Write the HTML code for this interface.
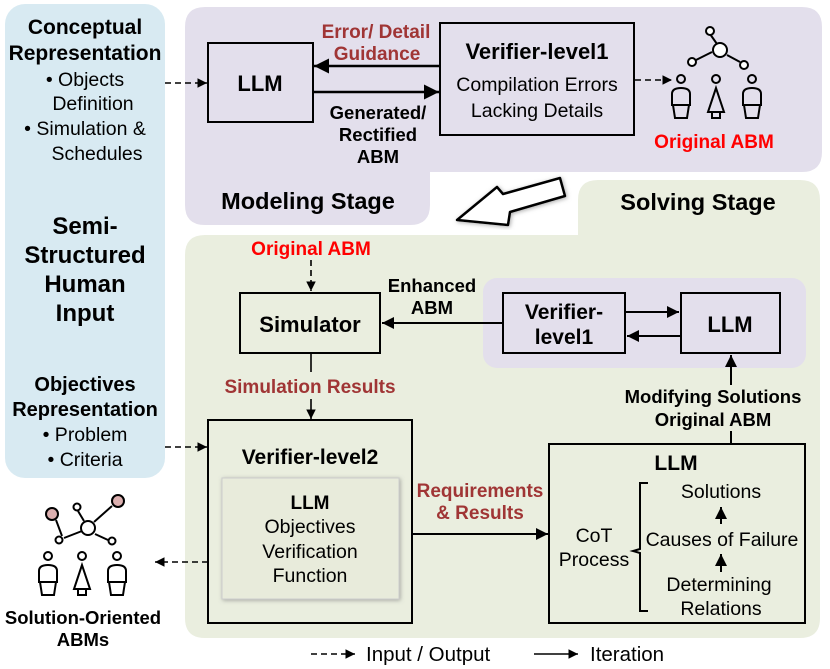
<!DOCTYPE html>
<html><head><meta charset="utf-8"><style>
html,body{margin:0;padding:0;background:#fff;}
svg{display:block;font-family:"Liberation Sans",Arial,sans-serif;}
.b{font-weight:bold;}
</style></head><body>
<svg width="830" height="669" viewBox="0 0 830 669" xmlns="http://www.w3.org/2000/svg">
<defs>
<marker id="ah" viewBox="0 0 10 10" refX="10" refY="5" markerWidth="6" markerHeight="6" orient="auto"><path d="M0,0 L10,5 L0,10 z" fill="#000"/></marker>
<filter id="sh" x="-10%" y="-10%" width="120%" height="120%"><feDropShadow dx="1" dy="1" stdDeviation="2" flood-color="#777" flood-opacity="0.6"/></filter>
</defs>
<rect x="5" y="4" width="160" height="474" rx="20" fill="#d8eaf2"/>
<path d="M205,7 H802 Q822,7 822,27 V152 Q822,172 802,172 H430 V205 Q430,225 410,225 H205 Q185,225 185,205 V27 Q185,7 205,7 Z" fill="#e3dfec"/>
<path d="M598,180 H800 Q820,180 820,200 V618 Q820,638 800,638 H205 Q185,638 185,618 V255 Q185,235 205,235 H578 V200 Q578,180 598,180 Z" fill="#eaeedf"/>
<rect x="483" y="278" width="323" height="90" rx="14" fill="#e3dfec"/>

<polygon points="457,220 497,187 503,194 560,178 565,196 510,212 508,225" fill="#fff" stroke="#000" stroke-width="2.5" stroke-linejoin="round" filter="url(#sh)"/>

<g font-size="19.5" text-anchor="middle" fill="#000">
<text x="85" y="34" class="b" font-size="21">Conceptual</text>
<text x="85" y="60" class="b" font-size="21">Representation</text>
<text x="85" y="86">•  Objects</text>
<text x="93" y="110">Definition</text>
<text x="85" y="135">•  Simulation &amp;</text>
<text x="97" y="160">Schedules</text>
<text x="85" y="234" class="b" font-size="24">Semi-</text>
<text x="85" y="263" class="b" font-size="24">Structured</text>
<text x="85" y="292" class="b" font-size="24">Human</text>
<text x="85" y="321" class="b" font-size="24">Input</text>
<text x="85" y="391" class="b" font-size="20">Objectives</text>
<text x="85" y="416" class="b" font-size="20">Representation</text>
<text x="85" y="441">•  Problem</text>
<text x="85" y="466">•  Criteria</text>

<rect x="208" y="43" width="105" height="79" fill="none" stroke="#000" stroke-width="2"/>
<text x="260" y="91" class="b" font-size="22">LLM</text>
<rect x="440" y="23" width="194" height="112" fill="none" stroke="#000" stroke-width="2"/>
<text x="537" y="59" class="b" font-size="22">Verifier-level1</text>
<text x="537" y="91">Compilation Errors</text>
<text x="537" y="117">Lacking Details</text>
<line x1="440" y1="66" x2="314" y2="66" stroke="#000" stroke-width="2.5" marker-end="url(#ah)"/>
<line x1="313" y1="92" x2="439" y2="92" stroke="#000" stroke-width="2.5" marker-end="url(#ah)"/>
<text x="376" y="38" class="b" font-size="19" fill="#a03535">Error/ Detail</text>
<text x="377" y="60" class="b" font-size="19" fill="#a03535">Guidance</text>
<text x="378" y="119" class="b" font-size="18.5">Generated/</text>
<text x="378" y="141" class="b" font-size="18.5">Rectified</text>
<text x="378" y="163" class="b" font-size="18.5">ABM</text>
<text x="308" y="209" class="b" font-size="23.5">Modeling Stage</text>
<line x1="165" y1="83" x2="207" y2="83" stroke="#000" stroke-width="1.6" stroke-dasharray="6,4" marker-end="url(#ah)"/>
<line x1="635" y1="80" x2="672" y2="80" stroke="#000" stroke-width="1.6" stroke-dasharray="6,4" marker-end="url(#ah)"/>
<text x="714" y="148" class="b" font-size="19" fill="#ff0000">Original ABM</text>

<text x="698" y="210" class="b" font-size="23.5">Solving Stage</text>
<text x="311" y="255" class="b" font-size="19" fill="#ff0000">Original ABM</text>
<line x1="311" y1="260" x2="311" y2="291" stroke="#000" stroke-width="1.6" stroke-dasharray="6,4" marker-end="url(#ah)"/>
<rect x="240" y="293" width="140" height="60" fill="none" stroke="#000" stroke-width="2"/>
<text x="310" y="332" class="b" font-size="22">Simulator</text>
<text x="432" y="292" class="b" font-size="18.5">Enhanced</text>
<text x="432" y="314" class="b" font-size="18.5">ABM</text>
<line x1="503" y1="323" x2="382" y2="323" stroke="#000" stroke-width="2" marker-end="url(#ah)"/>
<rect x="503" y="293" width="122" height="60" fill="none" stroke="#000" stroke-width="2"/>
<text x="564" y="319" class="b" font-size="21">Verifier-</text>
<text x="564" y="344" class="b" font-size="21">level1</text>
<rect x="681" y="293" width="99" height="60" fill="none" stroke="#000" stroke-width="2"/>
<text x="730" y="332" class="b" font-size="22">LLM</text>
<line x1="625" y1="312" x2="679" y2="312" stroke="#000" stroke-width="2" marker-end="url(#ah)"/>
<line x1="681" y1="336" x2="627" y2="336" stroke="#000" stroke-width="2" marker-end="url(#ah)"/>
<line x1="731" y1="385" x2="731" y2="355" stroke="#000" stroke-width="2" marker-end="url(#ah)"/>
<text x="713" y="403" class="b" font-size="18.5">Modifying Solutions</text>
<text x="713" y="426" class="b" font-size="18.5">Original ABM</text>
<line x1="731" y1="431" x2="731" y2="444" stroke="#000" stroke-width="2"/>

<line x1="311" y1="353" x2="311" y2="372" stroke="#000" stroke-width="1.6"/>
<text x="310" y="393" class="b" font-size="19" fill="#a03535">Simulation Results</text>
<line x1="311" y1="399" x2="311" y2="419" stroke="#000" stroke-width="1.6" marker-end="url(#ah)"/>

<rect x="208" y="420" width="204" height="203" fill="none" stroke="#000" stroke-width="2"/>
<text x="310" y="464" class="b" font-size="21">Verifier-level2</text>
<rect x="222" y="478" width="177" height="121" fill="#e8ebdb" stroke="#ccc" filter="url(#sh)"/>
<text x="310" y="509" class="b" font-size="19">LLM</text>
<text x="310" y="533">Objectives</text>
<text x="310" y="558">Verification</text>
<text x="310" y="582">Function</text>
<line x1="165" y1="447" x2="207" y2="447" stroke="#000" stroke-width="1.6" stroke-dasharray="6,4" marker-end="url(#ah)"/>
<line x1="208" y1="562" x2="155" y2="562" stroke="#000" stroke-width="1.6" stroke-dasharray="6,4" marker-end="url(#ah)"/>

<text x="480" y="497" class="b" font-size="19" fill="#a03535">Requirements</text>
<text x="480" y="519" class="b" font-size="19" fill="#a03535">&amp; Results</text>
<line x1="412" y1="534" x2="548" y2="534" stroke="#000" stroke-width="2" marker-end="url(#ah)"/>

<rect x="549" y="444" width="256" height="179" fill="none" stroke="#000" stroke-width="2"/>
<text x="676" y="470" class="b" font-size="21">LLM</text>
<text x="594" y="542">CoT</text>
<text x="594" y="566">Process</text>
<path d="M648,483 H640 V549 L633,551 L640,553 V611 H648" fill="none" stroke="#000" stroke-width="2"/>
<text x="721" y="498">Solutions</text>
<line x1="721" y1="524" x2="721" y2="507" stroke="#000" stroke-width="2" marker-end="url(#ah)"/>
<text x="722" y="546">Causes of Failure</text>
<line x1="721" y1="572" x2="721" y2="554" stroke="#000" stroke-width="2" marker-end="url(#ah)"/>
<text x="719" y="591">Determining</text>
<text x="721" y="615">Relations</text>

<text x="83" y="624" class="b" font-size="18.5">Solution-Oriented</text>
<text x="83" y="646" class="b" font-size="18.5">ABMs</text>

<line x1="311" y1="654" x2="355" y2="654" stroke="#000" stroke-width="1.6" stroke-dasharray="6,4" marker-end="url(#ah)"/>
<text x="366" y="661" text-anchor="start" font-size="20.5">Input / Output</text>
<line x1="534" y1="654" x2="578" y2="654" stroke="#000" stroke-width="1.6" marker-end="url(#ah)"/>
<text x="590" y="661" text-anchor="start" font-size="20.5">Iteration</text>
</g>

<g fill="none" stroke="#000" stroke-width="2">
<line x1="710" y1="34" x2="717" y2="44"/><line x1="712" y1="52" x2="696" y2="60"/><line x1="727" y1="55" x2="740" y2="62"/>
<circle cx="710" cy="31" r="4" fill="#fff"/><circle cx="720" cy="50" r="7" fill="#fff"/><circle cx="692" cy="62" r="4" fill="#fff"/><circle cx="744" cy="65" r="4" fill="#fff"/>
<circle cx="681" cy="79" r="4"/><path d="M672,105 V94 Q672,88 681,88 Q690,88 690,94 V105 Z M673,105 L675,118 H687 L689,105"/>
<circle cx="716" cy="79" r="4"/><path d="M716,88 L708,112 H724 Z M712,112 V118 H720 V112"/>
<circle cx="752" cy="79" r="4"/><path d="M743,105 V94 Q743,88 752,88 Q761,88 761,94 V105 Z M744,105 L746,118 H758 L760,105"/>
</g>
<g fill="none" stroke="#000" stroke-width="2">
<line x1="56" y1="520" x2="62" y2="536"/><line x1="64" y1="538" x2="82" y2="531"/><line x1="78" y1="511" x2="84" y2="521"/><line x1="94" y1="522" x2="112" y2="506"/><line x1="95" y1="534" x2="108" y2="540"/>
<circle cx="52" cy="514" r="6" fill="#dcb0b0"/><circle cx="118" cy="501" r="6" fill="#dcb0b0"/><circle cx="77" cy="507" r="3.5" fill="#fff"/><circle cx="88" cy="528" r="7" fill="#fff"/><circle cx="59" cy="540" r="3.5" fill="#fff"/><circle cx="112" cy="541" r="3.5" fill="#fff"/>
<circle cx="48" cy="556" r="4"/><path d="M39,582 V571 Q39,565 48,565 Q57,565 57,571 V582 Z M40,582 L42,595 H54 L56,582"/>
<circle cx="82" cy="556" r="4"/><path d="M82,565 L74,589 H90 Z M78,589 V595 H86 V589"/>
<circle cx="117" cy="556" r="4"/><path d="M108,582 V571 Q108,565 117,565 Q126,565 126,571 V582 Z M109,582 L111,595 H123 L125,582"/>
</g>
</svg>
</body></html>
